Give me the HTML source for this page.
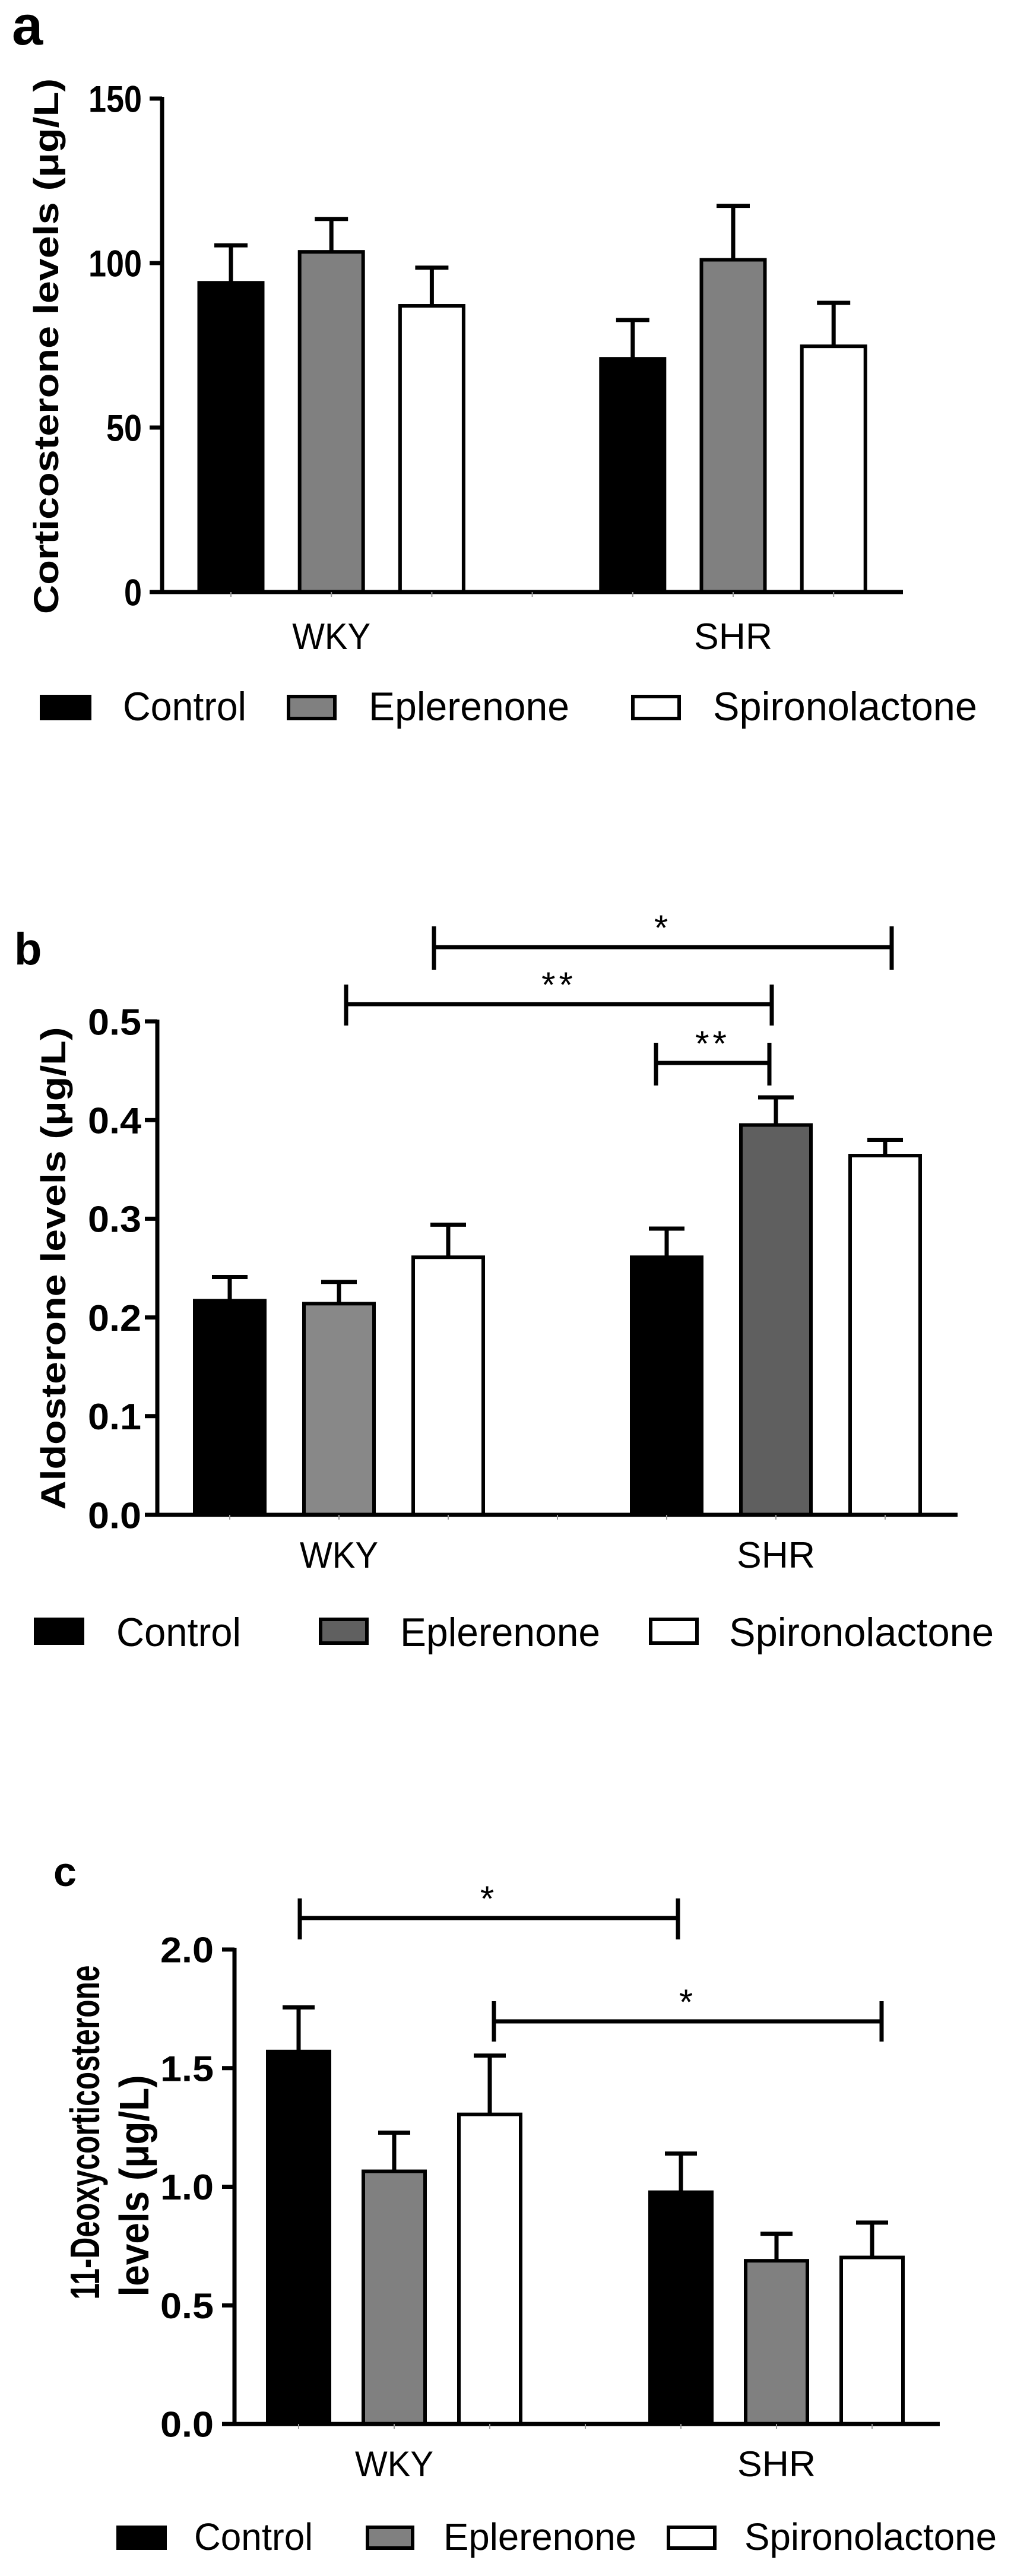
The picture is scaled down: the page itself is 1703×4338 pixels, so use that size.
<!DOCTYPE html>
<html><head><meta charset="utf-8"><style>
html,body{margin:0;padding:0;background:#fff;}
svg{display:block;}
text{font-family:"Liberation Sans",Arial,sans-serif;fill:#000;}
</style></head><body>
<svg id="fig" width="1703" height="4338" viewBox="0 0 1703 4338" xmlns="http://www.w3.org/2000/svg"></svg>
<script>
// ---- data ----
const categories = ['WKY', 'SHR'];
const seriesNames = ['Control', 'Eplerenone', 'Spironolactone'];
// panel a: corticosterone (µg/L)
const aMeans = [[94, 103.4, 87], [70.9, 101, 74.7]];
const aErrors = [[11.4, 10, 11.6], [11.8, 16.4, 13.2]];
const aTicks = ['0', '50', '100', '150'];
const aTickValues = [0, 50, 100, 150];
// panel b: aldosterone (µg/L)
const bMeans = [[0.217, 0.214, 0.261], [0.261, 0.395, 0.364]];
const bErrors = [[0.024, 0.022, 0.033], [0.029, 0.028, 0.016]];
const bTicks = ['0.0', '0.1', '0.2', '0.3', '0.4', '0.5'];
const bTickValues = [0, 0.1, 0.2, 0.3, 0.4, 0.5];
// panel c: 11-deoxycorticosterone (µg/L)
const cMeans = [[1.57, 1.065, 1.305], [0.977, 0.688, 0.702]];
const cErrors = [[0.186, 0.163, 0.248], [0.163, 0.114, 0.147]];
const cTicks = ['0.0', '0.5', '1.0', '1.5', '2.0'];
const cTickValues = [0, 0.5, 1, 1.5, 2];
const bSigLabels = ['*', '**', '**'];
const cSigLabels = ['*', '*'];

const NS = 'http://www.w3.org/2000/svg';
const svg = document.getElementById('fig');
function mk(tag, attrs, parent) {
  const e = document.createElementNS(NS, tag);
  for (const k in attrs) e.setAttribute(k, attrs[k]);
  (parent || svg).appendChild(e);
  return e;
}

const panels = [
  {id:'a', means:aMeans, errs:aErrors, ticks:aTicks, tickVals:aTickValues, max:150,
   ax:273, axEnd:1521, y0:997, yMax:166, c0:389, step:169.2, bw:107, cap:56,
   tickRight:239, tickFont:63, fills:[['#000','#808080','#fff'],['#000','#808080','#fff']],
   letter:{x:20,y:75,size:94,t:'a'},
   titles:[{t:'Corticosterone levels (\u03bcg/L)', x:98, y:583, len:902, size:58}],
   catY:1093, catFont:62,
   legend:{y:1170,h:43,boxes:[[67,87],[483,84],[1063,84]],texts:[[207,208],[621,338],[1201,445]],base:1213,size:68,fill:['#000','#808080','#fff']},
   sig:[]},
  {id:'b', means:bMeans, errs:bErrors, ticks:bTicks, tickVals:bTickValues, max:0.5,
   ax:265, axEnd:1613, y0:2551, yMax:1720, c0:387, step:184, bw:118, cap:60,
   tickRight:238, tickFont:62, fills:[['#000','#888888','#fff'],['#000','#5f5f5f','#fff']],
   letter:{x:24,y:1624,size:76,t:'b'},
   titles:[{t:'Aldosterone levels (\u03bcg/L)', x:110, y:2136, len:813, size:58}],
   catY:2640, catFont:62,
   legend:{y:2724,h:46,boxes:[[57,85],[537,84],[1093,84]],texts:[[196,210],[674,337],[1228,446]],base:2772,size:68,fill:['#000','#606060','#fff']},
   sig:[[731,1502,1595,1560,1633,0],[583,1300,1691,1658,1727,1],[1105,1296,1790,1756,1828,2]], sigLabels:bSigLabels},
  {id:'c', means:cMeans, errs:cErrors, ticks:cTicks, tickVals:cTickValues, max:2,
   ax:395, axEnd:1583, y0:4082, yMax:3283, c0:503, step:161, bw:104, cap:54,
   tickRight:360, tickFont:60, fills:[['#000','#808080','#fff'],['#000','#808080','#fff']],
   letter:{x:90,y:3176,size:70,t:'c'},
   titles:[{t:'11-Deoxycorticosterone', x:167, y:3591, len:563, size:70},{t:'levels (\u03bcg/L)', x:250, y:3681, len:373, size:70}],
   catY:4170, catFont:60,
   legend:{y:4253,h:41,boxes:[[196,85],[616,82],[1123,84]],texts:[[327,200],[747,325],[1254,425]],base:4294,size:64,fill:['#000','#808080','#fff']},
   sig:[[505,1142,3230,3197,3266,0],[832,1485,3404,3370,3438,1]], sigLabels:cSigLabels}
];

panels.forEach(p => {
  const g = mk('g', {});
  
  
  const yS = v => p.y0 - (v / p.max) * (p.y0 - p.yMax);
  const xS = (gi, si) => p.c0 + (gi * 4 + si) * p.step;

  const L = mk('text', {x:p.letter.x, y:p.letter.y, 'font-size':p.letter.size, 'font-weight':'bold'}, g);
  L.textContent = p.letter.t;
  
  

  p.titles.forEach((t, i) => {
    const T = mk('text', {x:0, y:0, transform:`translate(${t.x},${t.y}) rotate(-90)`, 'text-anchor':'middle', 'font-size':t.size, 'font-weight':'bold', textLength:t.len, lengthAdjust:'spacingAndGlyphs'}, g);
    T.textContent = t.t;
    
    
  });

  // bars
  p.means.forEach((row, gi) => {
    row.forEach((v, si) => {
      const cx = xS(gi, si);
      const e = p.errs[gi][si];
      const el = mk('line', {x1:cx, x2:cx, y1:yS(v), y2:yS(v + e), stroke:'#000', 'stroke-width':7}, g);
      
      
      const ec = mk('line', {x1:cx - p.cap/2, x2:cx + p.cap/2, y1:yS(v + e), y2:yS(v + e), stroke:'#000', 'stroke-width':7}, g);
      
      
      const r = mk('rect', {x:cx - p.bw/2, y:yS(v), width:p.bw, height:p.y0 - yS(v), fill:p.fills[gi][si], stroke:'#000', 'stroke-width':6}, g);
      
      
    });
  });

  // axes
  const ya = mk('line', {x1:p.ax, x2:p.ax, y1:p.yMax - 3, y2:p.y0 + 3, stroke:'#000', 'stroke-width':7}, g);
  
  
  const xa = mk('line', {x1:p.ax - 3, x2:p.axEnd, y1:p.y0, y2:p.y0, stroke:'#000', 'stroke-width':7}, g);
  
  
  p.tickVals.forEach((v, i) => {
    const y = yS(v);
    const tk = mk('line', {x1:p.ax - 21, x2:p.ax, y1:y, y2:y, stroke:'#000', 'stroke-width':7}, g);
    
    
    const tl = mk('text', {x:p.tickRight, y:y + p.tickFont*0.36, 'text-anchor':'end', 'font-size':p.tickFont, 'font-weight':'bold', textLength:p.ticks[i].length*30, lengthAdjust:'spacingAndGlyphs'}, g);
    tl.textContent = p.ticks[i];
    
    
  });
  // x minor ticks
  for (let k = 0; k < 7; k++) {
    const x = p.c0 + k * p.step;
    const mt = mk('line', {x1:x, x2:x, y1:p.y0, y2:p.y0 + 8, stroke:'#999', 'stroke-width':2}, g);
    
    
  }
  categories.forEach((c, gi) => {
    const ct = mk('text', {x:xS(gi, 1), y:p.catY, 'text-anchor':'middle', 'font-size':p.catFont, textLength:c.length*44, lengthAdjust:'spacingAndGlyphs'}, g);
    ct.textContent = c;
    
    
  });

  // significance brackets
  p.sig.forEach(s => {
    const sg = mk('g', {}, g);
    
    
    mk('line', {x1:s[0], x2:s[1], y1:s[2], y2:s[2], stroke:'#000', 'stroke-width':7}, sg);
    mk('line', {x1:s[0], x2:s[0], y1:s[3], y2:s[4], stroke:'#000', 'stroke-width':7}, sg);
    mk('line', {x1:s[1], x2:s[1], y1:s[3], y2:s[4], stroke:'#000', 'stroke-width':7}, sg);
    const st = mk('text', {x:(s[0]+s[1])/2, y:s[2] - 12, 'text-anchor':'middle', 'font-size':60, 'letter-spacing':'6'}, sg);
    st.textContent = p.sigLabels[s[5]];
    
    
  });

  // legend
  const lg = mk('g', {}, g);
  
  
  seriesNames.forEach((n, si) => {
    const b = p.legend.boxes[si];
    const sw = mk('rect', {x:b[0] + 3, y:p.legend.y + 3, width:b[1] - 6, height:p.legend.h - 6, fill:p.legend.fill[si], stroke:'#000', 'stroke-width':6}, lg);
    
    
    const t = p.legend.texts[si];
    const lt = mk('text', {x:t[0], y:p.legend.base, 'font-size':p.legend.size, textLength:t[1], lengthAdjust:'spacingAndGlyphs'}, lg);
    lt.textContent = n;
    
    
  });
});
</script>
</body></html>
